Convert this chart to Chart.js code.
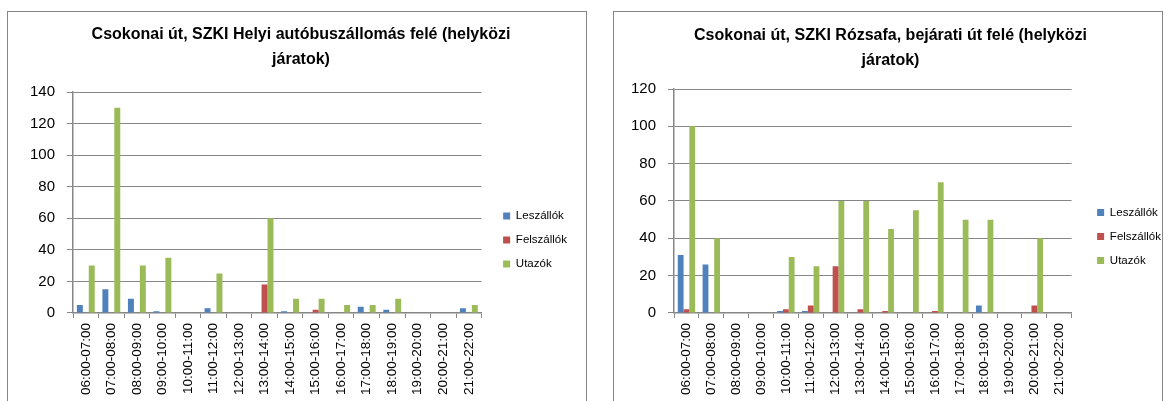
<!DOCTYPE html>
<html>
<head>
<meta charset="utf-8">
<script src="https://cdn.jsdelivr.net/npm/chart.js@4.4.1/dist/chart.umd.min.js"></script>
<style>
    body { margin: 0; background: #fff; overflow: hidden; }
    .box { position: absolute; top: 11px; height: 420px; border: 1px solid #868686; box-sizing: border-box; background: #fff; }
    #box1 { left: 7px; width: 580px; }
    #box2 { left: 613px; width: 550px; }
    canvas { position: absolute; left: 0; top: 0; }
</style>
</head>
<body>
<div class="box" id="box1"><canvas id="chartLeft" width="578" height="389"></canvas></div>
<div class="box" id="box2"><canvas id="chartRight" width="548" height="389"></canvas></div>
<script>
const hours = ['06:00-07:00', '07:00-08:00', '08:00-09:00', '09:00-10:00', '10:00-11:00', '11:00-12:00',
    '12:00-13:00', '13:00-14:00', '14:00-15:00', '15:00-16:00', '16:00-17:00', '17:00-18:00',
    '18:00-19:00', '19:00-20:00', '20:00-21:00', '21:00-22:00'];

// Helyi autóbuszállomás felé
const leszallokLeft = [5, 15, 9, 1, 0, 3, 0, 0, 1, 0, 0, 4, 2, 0, 0, 3];
const felszallokLeft = [0, 0, 0, 0, 0, 0, 0, 18, 0, 2, 0, 0, 0, 0, 0, 0];
const utazokLeft = [30, 130, 30, 35, 0, 25, 0, 60, 9, 9, 5, 5, 9, 0, 0, 5];

// Rózsafa, bejárati út felé
const leszallokRight = [31, 26, 0, 0, 1, 1, 0, 0, 0, 0, 0, 0, 4, 0, 0, 0];
const felszallokRight = [2, 0, 0, 0, 2, 4, 25, 2, 1, 0, 1, 0, 0, 0, 4, 0];
const utazokRight = [100, 40, 0, 0, 30, 25, 60, 60, 45, 55, 70, 50, 50, 0, 40, 0];

const seriesNames = ['Leszállók', 'Felszállók', 'Utazók'];
const seriesColors = ['#4F81BD', '#C0504D', '#9BBB59'];

const gridColor = '#868686';
const fontFamily = '"Liberation Sans", Arial, sans-serif';

// move legend (and title) a bit, like excel places them
function boxShift(legendDx, legendDy, titleDx) {
    return {
        id: 'boxShift',
        afterLayout(chart) {
            chart.legend.left += legendDx;
            chart.legend.right += legendDx;
            chart.legend.top += legendDy;
            chart.legend.bottom += legendDy;
            chart.titleBlock.left += titleDx;
            chart.titleBlock.right += titleDx;
        }
    };
}

function makeDatasets(values) {
    return values.map((v, i) => ({
        label: seriesNames[i],
        data: v,
        backgroundColor: seriesColors[i],
        borderWidth: 0,
        categoryPercentage: 0.7,
        barPercentage: 1
    }));
}

function createBarChart(canvasId, titleLines, values, yMax, padding, titleGap, shift) {
    const config = {
        type: 'bar',
        data: {
            labels: hours,
            datasets: makeDatasets(values)
        },
        options: {
            responsive: false,
            animation: false,
            layout: { padding: padding },
            plugins: {
                title: {
                    display: true,
                    text: titleLines,
                    color: '#000',
                    font: { family: fontFamily, size: 16, weight: 'bold', lineHeight: 1.5625 },
                    padding: { top: 0, bottom: titleGap }
                },
                legend: {
                    position: 'right',
                    labels: {
                        boxWidth: 7,
                        boxHeight: 7,
                        padding: 12.5,
                        color: '#000',
                        font: { family: fontFamily, size: 11.5 }
                    }
                },
                tooltip: { enabled: false }
            },
            scales: {
                x: {
                    grid: { display: true, drawOnChartArea: false, drawTicks: true, tickLength: 5, color: gridColor },
                    border: { color: gridColor, width: 1.5 },
                    ticks: {
                        minRotation: 90,
                        maxRotation: 90,
                        autoSkip: false,
                        padding: 5,
                        color: '#000',
                        font: { family: fontFamily, size: 13.5 }
                    }
                },
                y: {
                    min: 0,
                    max: yMax,
                    grid: { color: gridColor, tickLength: 6 },
                    border: { color: gridColor, width: 1.5 },
                    ticks: {
                        stepSize: 20,
                        padding: 12,
                        color: '#000',
                        font: { family: fontFamily, size: 15 }
                    }
                }
            }
        },
        plugins: [boxShift(shift[0], shift[1], shift[2])]
    };
    const ctx = document.getElementById(canvasId).getContext('2d');
    new Chart(ctx, config);
}

function drawCharts() {
    createBarChart('chartLeft',
        ['Csokonai út, SZKI Helyi autóbuszállomás felé (helyközi', 'járatok)'],
        [leszallokLeft, felszallokLeft, utazokLeft], 140,
        { left: 10, right: 18, top: 10, bottom: 1 }, 20, [9, 29, 8]);
    createBarChart('chartRight',
        ['Csokonai út, SZKI Rózsafa, bejárati út felé (helyközi', 'járatok)'],
        [leszallokRight, felszallokRight, utazokRight], 120,
        { left: 5, right: 4, top: 11, bottom: 1 }, 16, [13, 25, 2]);
}

window.onload = drawCharts;
</script>
</body>
</html>
